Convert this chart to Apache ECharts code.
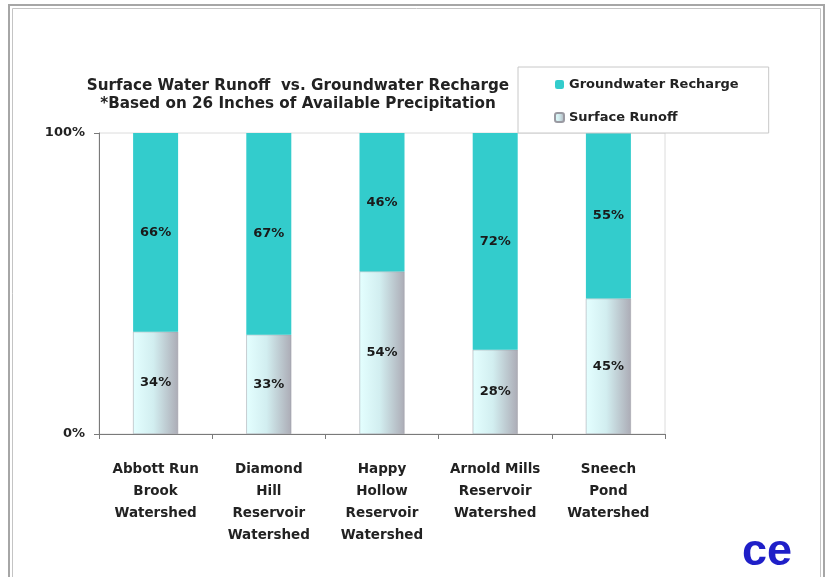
<!DOCTYPE html>
<html>
<head>
<meta charset="utf-8">
<script src="https://cdn.jsdelivr.net/npm/echarts@6/dist/echarts.min.js"></script>
<style>
  html, body { margin: 0; padding: 0; background: #fff; }
  #chart { width: 827px; height: 577px; }
</style>
</head>
<body>
<div id="chart"></div>
<script>
// watersheds (x axis)
const categories = [
  'Abbott Run\nBrook\nWatershed',
  'Diamond\nHill\nReservoir\nWatershed',
  'Happy\nHollow\nReservoir\nWatershed',
  'Arnold Mills\nReservoir\nWatershed',
  'Sneech\nPond\nWatershed'
]
const surfaceRunoff = [34, 33, 54, 28, 45]        // %
const groundwaterRecharge = [66, 67, 46, 72, 55]  // %
const yTicks = [0, 100]

// the picture is a bit stretched sideways, DejaVu bold is wider so it fits better
const font = 'DejaVu Sans, Verdana, sans-serif'

const myChart = echarts.init(document.getElementById('chart'))

const labelStyle = {
  show: true,
  position: 'inside',
  formatter: '{c}%',
  color: '#1a1a1a',
  fontSize: 13,
  fontWeight: 'bold',
  fontFamily: font
}

const option = {
  backgroundColor: '#fff',
  animation: false,
  title: {
    text: 'Surface Water Runoff  vs. Groundwater Recharge\n*Based on 26 Inches of Available Precipitation',
    left: 293,
    top: 72,
    textAlign: 'center',
    textStyle: {
      fontSize: 15.2,
      fontWeight: 'bold',
      lineHeight: 18,
      color: '#222',
      fontFamily: font
    }
  },
  legend: {
    orient: 'vertical',
    left: 518,
    top: 67,
    data: ['Groundwater Recharge', 'Surface Runoff'],
    backgroundColor: '#fff',
    borderColor: '#c8c8c8',
    borderWidth: 1,
    padding: [11, 30, 9, 36],
    itemWidth: 9,
    itemHeight: 9,
    itemGap: 20,
    textStyle: {
      fontSize: 13,
      fontWeight: 'bold',
      color: '#222',
      fontFamily: font
    }
  },
  grid: {
    left: 99,
    top: 133,
    width: 566,
    height: 301,
    show: true,
    borderColor: '#dcdcdc',
    borderWidth: 1
  },
  xAxis: {
    type: 'category',
    data: categories,
    axisLine: { lineStyle: { color: '#7a7a7a', width: 1 } },
    axisTick: { show: true, length: 5, lineStyle: { color: '#7a7a7a' } },
    axisLabel: {
      interval: 0,
      margin: 24,
      lineHeight: 22,
      fontSize: 13.5,
      fontWeight: 'bold',
      color: '#222',
      fontFamily: font
    }
  },
  yAxis: {
    type: 'value',
    min: yTicks[0],
    max: yTicks[1],
    interval: 100,
    splitLine: { show: false },
    axisLine: { show: true, lineStyle: { color: '#7a7a7a', width: 1 } },
    axisTick: { show: true, length: 5, lineStyle: { color: '#7a7a7a' } },
    axisLabel: {
      formatter: '{value}%',
      margin: 14,
      fontSize: 13,
      fontWeight: 'bold',
      color: '#222',
      fontFamily: font
    }
  },
  series: [
    {
      name: 'Surface Runoff',
      type: 'bar',
      stack: 'total',
      barWidth: 45,
      data: surfaceRunoff,
      itemStyle: {
        color: {
          type: 'linear', x: 0, y: 0, x2: 1, y2: 0,
          colorStops: [
            { offset: 0, color: '#e4ffff' },
            { offset: 0.45, color: '#d2eef0' },
            { offset: 1, color: '#acacb6' }
          ]
        },
        borderColor: '#9a9aa2',
        borderWidth: 0.5
      },
      label: labelStyle
    },
    {
      name: 'Groundwater Recharge',
      type: 'bar',
      stack: 'total',
      barWidth: 45,
      data: groundwaterRecharge,
      itemStyle: { color: '#33cccc' },
      label: labelStyle
    }
  ],
  graphic: [
    // double frame around the slide
    {
      type: 'rect',
      shape: { x: 9, y: 5, width: 815, height: 620 },
      style: { fill: 'none', stroke: '#a6a6a6', lineWidth: 2 },
      silent: true
    },
    {
      type: 'rect',
      shape: { x: 12.5, y: 8.5, width: 808, height: 620 },
      style: { fill: 'none', stroke: '#c4c4c4', lineWidth: 1 },
      silent: true
    },
    // logo
    {
      type: 'text',
      left: 742,
      top: 530,
      style: {
        text: 'ce',
        fill: '#1f1fc8',
        font: 'bold 45px Liberation Sans, Arial, sans-serif'
      },
      silent: true
    }
  ]
}

myChart.setOption(option)
</script>
</body>
</html>
